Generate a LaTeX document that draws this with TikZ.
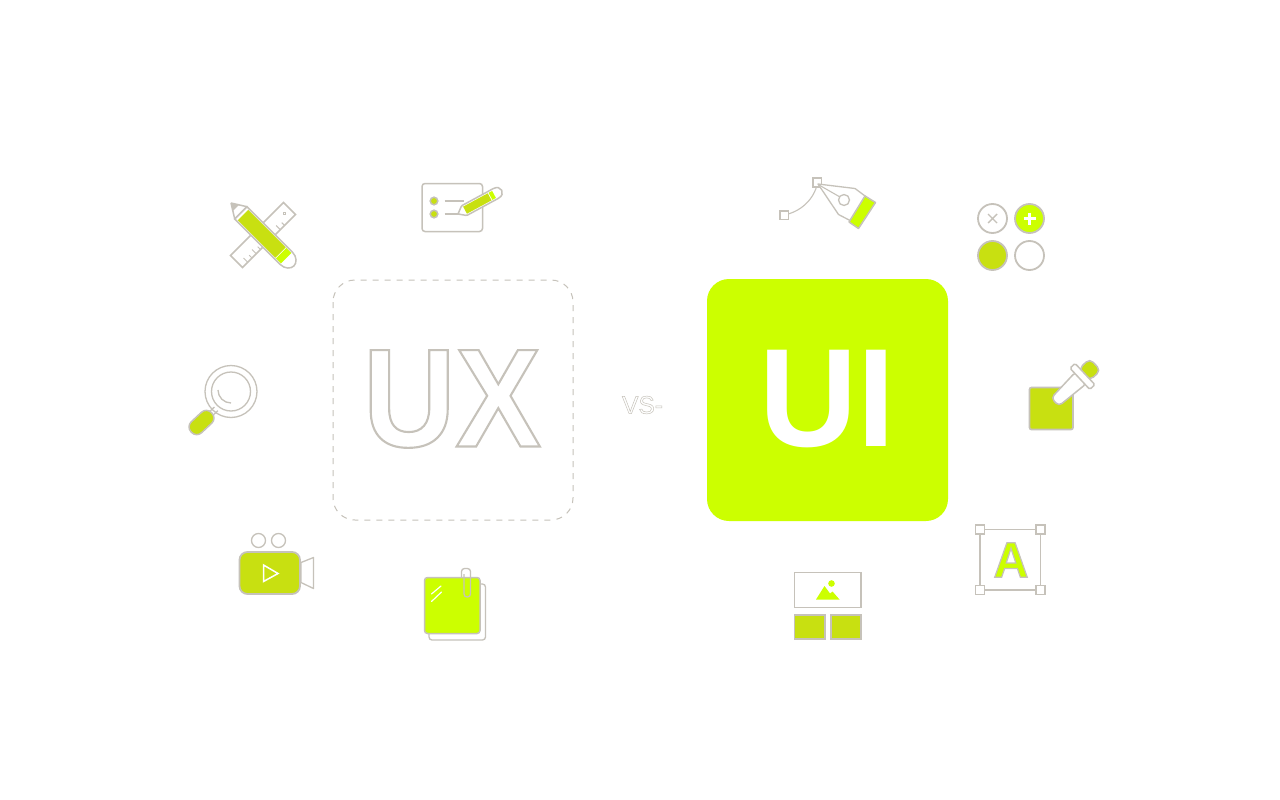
\documentclass[tikz,border=0pt]{standalone}
\usepackage{fontspec}
\usepackage{tikz}
\setmainfont{Liberation Sans}
\newfontfamily\outlineface[FakeBold=1.5,FakeStretch=.915]{Liberation Sans Bold}
\newfontfamily\thinface[FakeBold=2,FakeStretch=.98]{Liberation Sans}
\newfontfamily\letterface[FakeBold=2.4,FakeStretch=.97]{Liberation Sans Bold}
\newfontfamily\solidface[FakeStretch=.97]{Liberation Sans Bold}
\newcommand{\greyoutline}{\special{pdf:code 0.776 0.761 0.729 RG}}
\definecolor{lineGrey}{HTML}{C6C2BA}
\definecolor{limeBright}{HTML}{CCFF00}
\definecolor{limeDark}{HTML}{C8E011}
\tikzset{
	x=1pt,y=-1pt,
	paint/.style={draw=lineGrey, fill=#1, line width=1.5pt},
	outline/.style={draw=lineGrey, line width=1.3pt},
	whitemark/.style={draw=white, line width=1.2pt, line cap=round},
	handle/.style={draw=lineGrey, fill=white, line width=1.5pt}
}

\begin{document}
\begin{tikzpicture}
	\useasboundingbox (0,0) rectangle (1280,800);
	\fill[white] (0,0) rectangle (1280,800);
	\draw[lineGrey, line width=1pt, rounded corners=22pt, dash pattern=on 6pt off 6pt]
	(333,280) rectangle (573,520);
	\fill[limeBright, rounded corners=22pt] (707,279) rectangle (948,521);
	\node [font=\outlineface\fontsize{140}{140}\selectfont, inner sep=0pt, text=white]
	(uxLabel) at (452,399) {\greyoutline UX};
	\node [font=\solidface\fontsize{140}{140}\selectfont, inner sep=0pt, text=white]
	(uiLabel) at (827.5,399) {UI};
	\node [font=\thinface\fontsize{25}{25}\selectfont, inner sep=0pt, text=white]
	(vsLabel) at (642.5,405) {\greyoutline VS-};
	\begin{scope}[shift={(263,235)},rotate=45]
		\draw[paint=white] (-37.5,-8.5) rectangle (37.5,8.5);
		\foreach \tick/\len in {-30/6,-24/4,-18/6,-12/4,16/6,22/4}
		\draw[outline,line width=.9pt] (\tick,8.5) -- (\tick,8.5-\len);
		\draw[outline,line width=.9pt] (30,0) circle (1.2);
	\end{scope}
	\begin{scope}[shift={(231,203)},rotate=-45]
		\draw[paint=white, rounded corners=.5pt] (0,0) -- (14,-8.7) -- (14,8.7) -- cycle;
		\fill[lineGrey] (0,0) -- (7,-4.2) -- (7,4.2) -- cycle;
		\draw[paint=white] (14,-8.7) -- (78,-8.7) .. controls (85,-8.7) and (89,-4) .. (89,0)
		.. controls (89,4) and (85,8.7) .. (78,8.7) -- (14,8.7) -- cycle;
		\fill[limeDark] (17,-7.4) rectangle (70,7.4);
		\fill[limeBright] (71,-7.4) rectangle (78,7.4);
	\end{scope}
	\draw[paint=white, rounded corners=3pt] (422,183.5) rectangle (482.5,231.5);
	\foreach \dotY in {201,214}
	\draw[paint=limeDark] (434,\dotY) circle (3.8);
	\draw[outline] (444.5,201) -- (463.5,201);
	\draw[outline] (444.5,214) -- (466,214);
	\begin{scope}[shift={(458,214)},rotate=28.5]
		\draw[paint=white, rounded corners=1pt] (0,0) -- (7,-5.5) -- (42,-5.5)
		.. controls (52,-5.5) and (52,5.5) .. (42,5.5) -- (7,5.5) -- cycle;
		\fill[limeDark] (8,-4) rectangle (36,4);
		\fill[limeBright] (37,-4) rectangle (41,4);
	\end{scope}
	\draw[outline] (231,391.5) circle (26);
	\draw[outline] (231,391.5) circle (19.5);
	\draw[outline] (218,390) arc (180:90:13);
	\begin{scope}[shift={(201.5,422.5)},rotate=43]
		\draw[outline] (13,-2.5) -- (20,-2.5) (13,2.5) -- (20,2.5);
		\draw[paint=limeDark, rounded corners=7pt] (-14,-7.5) rectangle (14,7.5);
	\end{scope}
	\foreach \reelX in {258.5,278.5}
	\draw[outline] (\reelX,540.5) circle (7);
	\draw[paint=limeDark, rounded corners=8pt, line width=1.8pt] (239.5,552) rectangle (300,594);
	\draw[outline, line join=round] (301,562.5) -- (313.5,557.5) -- (313.5,588.5) -- (301,582.5) -- cycle;
	\draw[whitemark, line join=miter, line width=1.5pt] (263.5,565) -- (278,573.5) -- (263.5,581.5) -- cycle;
	\draw[outline, rounded corners=3pt] (429,633.5) -- (429,640) -- (485.5,640) -- (485.5,584) -- (480,584);
	\draw[paint=limeBright, rounded corners=3pt] (424.5,577.5) rectangle (480,633.5);
	\draw[whitemark] (431.5,594) -- (441,586);
	\draw[whitemark] (431.5,601.5) -- (441.5,592);
	\draw[outline, rounded corners=3pt] (461.5,577.5) -- (461.5,568.5) -- (470.5,568.5) -- (470.5,597) -- (464,597) -- (464,574);
	\draw[outline, line width=1.1pt] (784,215) .. controls (800,212) and (814,200) .. (817.5,183);
	\draw[handle] (780,211) rectangle (788.5,219.5);
	\draw[handle] (813,178) rectangle (821.5,187);
	\draw[outline, fill=white, line join=round] (818,184) -- (855,188.5) -- (869,199) -- (851,221) -- (838.5,214.5) -- cycle;
	\draw[outline, line width=1.1pt] (819,185) -- (840,197);
	\draw[outline, fill=white] (844,200) circle (5.5);
	\draw[paint=limeBright, line join=round] (865,196) -- (875.5,202.5) -- (858.5,228.5) -- (849,222) -- cycle;
	\draw[paint=white, line width=1.8pt] (992.5,218.5) circle (14.5);
	\draw[paint=limeBright, line width=1.8pt] (1029.5,218.5) circle (14.5);
	\draw[paint=limeDark, line width=1.8pt] (992.5,255.5) circle (14.5);
	\draw[paint=white, line width=1.8pt] (1029.5,255.5) circle (14.5);
	\draw[lineGrey, line width=1.4pt] (988,214) -- (997,223) (997,214) -- (988,223);
	\draw[white, line width=2.2pt] (1023.5,218.5) -- (1035.5,218.5) (1029.5,212.5) -- (1029.5,224.5);
	\draw[paint=limeDark, rounded corners=2pt, line width=1.7pt] (1029.5,387.5) rectangle (1073,429.5);
	\begin{scope}[shift={(1055,402)},rotate=43]
		\draw[paint=limeDark, rounded corners=5pt] (40,-8) -- (55,-8) -- (55,8) -- (40,8) -- cycle;
		\draw[paint=white, rounded corners=4pt] (0,-5.5) -- (36,-8) -- (36,8) -- (0,5.5) -- cycle;
		\draw[paint=white, rounded corners=1.5pt] (34,-14.5) rectangle (41,14.5);
	\end{scope}
	\draw[paint=white, line width=1.7pt] (794.5,572.5) rectangle (861,607.5);
	\fill[limeBright] (816,599.5) -- (824.5,586) -- (830,593.5) -- (832.5,591.5) -- (839.5,599.5) -- cycle;
	\fill[limeBright] (831.5,583.5) circle (3.3);
	\foreach \tileX in {794.5,831}
	\draw[paint=limeDark, line width=1.7pt] (\tileX,615) rectangle ++(30.3,24);
	\draw[outline, line width=1.6pt] (980,529.5) rectangle (1040.5,590);
	\foreach \cornerX/\cornerY in {980/529.5,1040.5/529.5,980/590,1040.5/590}
	\draw[handle] (\cornerX-4.7,\cornerY-4.7) rectangle (\cornerX+4.7,\cornerY+4.7);
	\node [font=\letterface\fontsize{50}{50}\selectfont, inner sep=0pt, text=limeBright]
	(letterLabel) at (1011,560) {\greyoutline A};
\end{tikzpicture}
\end{document}
